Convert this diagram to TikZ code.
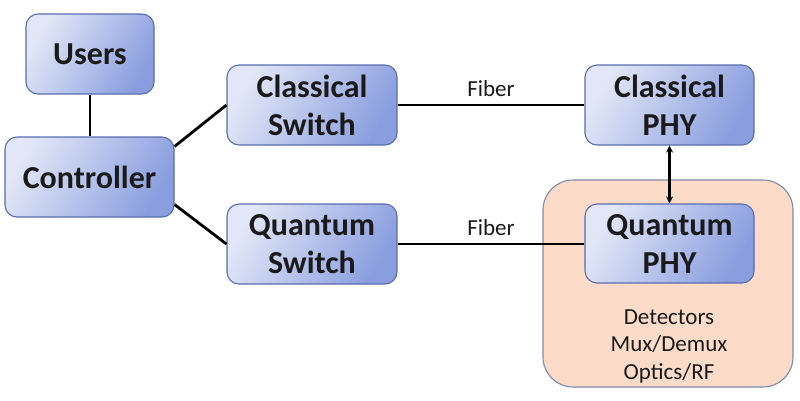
\documentclass[tikz,border=0pt]{standalone}
\usepackage{fontspec}
\setmainfont{Carlito}
\usetikzlibrary{arrows.meta,calc}
\definecolor{boxlight}{HTML}{E2E7F7}
\definecolor{boxdark}{HTML}{8A9EDF}
\definecolor{boxedge}{HTML}{5A6DAE}
\definecolor{orangefill}{HTML}{FCDCC8}
\definecolor{orangeedge}{HTML}{7D89A8}
\definecolor{txt}{HTML}{1A1A1A}
\tikzset{
  bluebox/.style={rectangle, rounded corners=12pt, draw=boxedge, line width=1.1pt,
    top color=boxlight, bottom color=boxdark, shading angle=60,
    align=center, text=txt, inner sep=0pt,
    font=\fontsize{32}{38}\selectfont\bfseries},
  orangebox/.style={rectangle, rounded corners=30pt, draw=orangeedge, line width=1.1pt,
    fill=orangefill, inner sep=0pt},
  link/.style={line width=2.8pt, black},
  lbl/.style={font=\fontsize{23}{27.5}\selectfont, text=txt, align=center, inner sep=0pt},
}
\begin{document}
\begin{tikzpicture}[x=1pt,y=-1pt]
\useasboundingbox (0,0) rectangle (800,400);
\node[bluebox, minimum width=128pt, minimum height=80pt] (users) at (90,54) {Users};
\node[bluebox, minimum width=169pt, minimum height=80pt] (ctrl) at (89.5,177) {Controller};
\node[bluebox, minimum width=170pt, minimum height=80pt] (cs) at (312,105) {Classical\\Switch};
\node[bluebox, minimum width=170pt, minimum height=80pt] (qs) at (312,244) {Quantum\\Switch};
\node[bluebox, minimum width=169pt, minimum height=80pt] (cp) at (669.5,105) {Classical\\PHY};
\node[orangebox, minimum width=250pt, minimum height=207pt] (qbox) at (668,283.5) {};
\node[bluebox, minimum width=169pt, minimum height=79pt] (qp) at (669.5,243.5) {Quantum\\PHY};
\node[lbl] (parts) at (669,346) {Detectors\\Mux/Demux\\Optics/RF};
\draw[link] (users.south) -- (users.south |- ctrl.north);
\draw[link] ($(ctrl.north east)+(0,10)$) -- (cs.west);
\draw[link] ($(ctrl.south east)+(0,-13)$) -- (qs.west);
\draw[link] (cs.east) -- node[lbl, above=7pt] (f1) {Fiber} (cp.west);
\draw[link] (qs.east) -- node[lbl, above=7pt] (f2) {Fiber} (qs.east -| qp.west);
\draw[line width=2.4pt, {Stealth[length=7pt,width=7pt]}-{Stealth[length=7pt,width=7pt]}] (cp.south) -- (qp.north);
\end{tikzpicture}
\end{document}
